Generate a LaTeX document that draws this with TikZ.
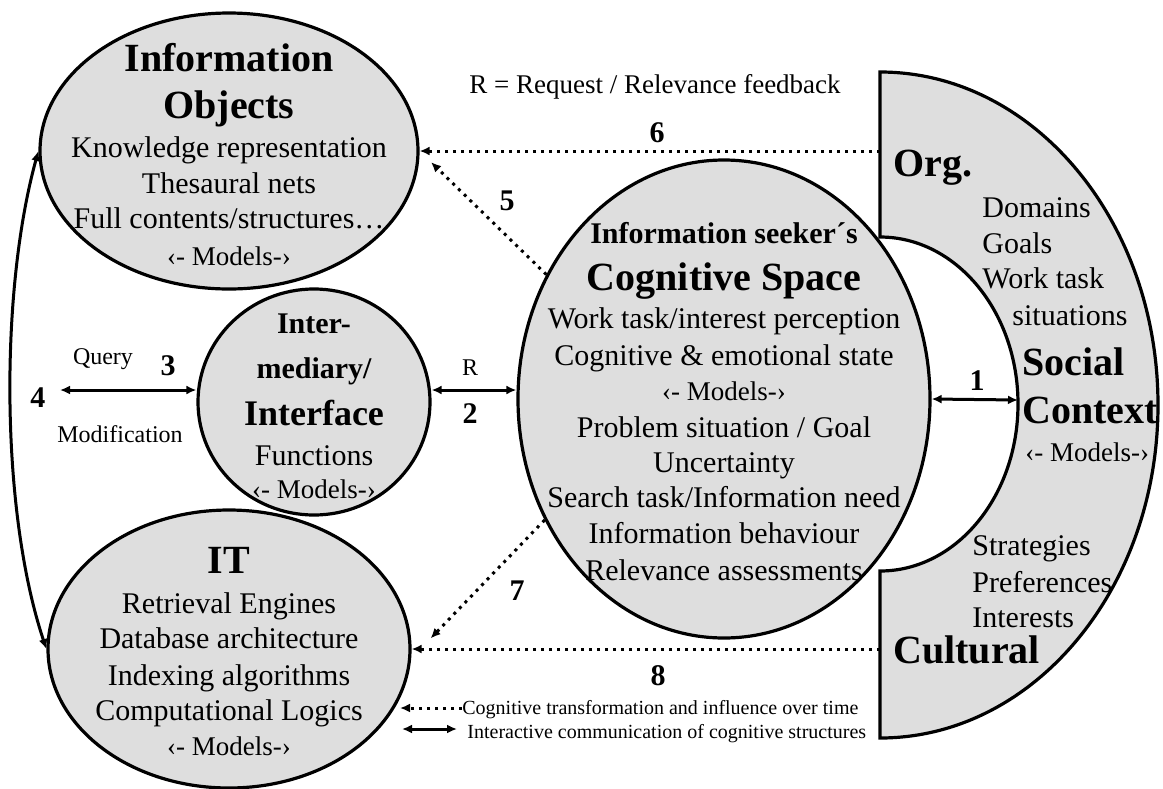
\documentclass[tikz,border=0pt]{standalone}
\usepackage{fontspec}
\setmainfont{Liberation Serif}
\usepackage{xcolor}
\usepackage{tikz}
\usetikzlibrary{shapes.geometric,arrows.meta}

\definecolor{blobfill}{HTML}{DEDEDE}

\tikzset{
  blob/.style={ellipse, draw, line width=1.6pt, fill=blobfill, inner sep=0pt},
  body/.style={inner sep=0pt, font=\fontsize{15}{18}\selectfont, text height=10pt, text depth=0pt},
  head/.style={inner sep=0pt, font=\bfseries\fontsize{20}{24}\selectfont, text height=13.5pt, text depth=0pt},
  midhead/.style={inner sep=0pt, font=\bfseries\fontsize{18}{22}\selectfont, text height=12.2pt, text depth=0pt},
  subhead/.style={inner sep=0pt, font=\bfseries\fontsize{15}{18}\selectfont, text height=10pt, text depth=0pt},
  models/.style={inner sep=0pt, font=\fontsize{13.5}{16}\selectfont, text height=8.9pt, text depth=0pt},
  note/.style={inner sep=0pt, font=\fontsize{13.5}{16}\selectfont, text height=8.9pt, text depth=0pt},
  lab/.style={inner sep=0pt, font=\fontsize{12}{14}\selectfont, text height=8pt, text depth=0pt},
  legtext/.style={inner sep=0pt, anchor=west, font=\fontsize{10}{12}\selectfont, text height=6.6pt, text depth=0pt},
  flow/.style={line width=1.5pt, {Latex[length=5pt,width=4.5pt]}-{Latex[length=5pt,width=4.5pt]}},
  infl/.style={line width=1.5pt, dash pattern=on 1.5pt off 2.5pt, -{Latex[length=5pt,width=4.5pt]}}
}

\begin{document}
\begin{tikzpicture}[x=0.5pt, y=-0.5pt]
    \useasboundingbox (0,0) rectangle (1163,788);

    % Social context band
    \draw[line width=1.6pt, fill=blobfill] (880,72) -- (880,237)
        arc[start angle=-90, end angle=90, x radius=138, y radius=167] -- (880,738)
        arc[start angle=90, end angle=-90, x radius=278, y radius=333] -- cycle;
    \coordinate (orgedge) at (880,151);
    \coordinate (culedge) at (880,649);
    \coordinate (socin) at (1018,400);

    % Ellipses
    \node[blob, minimum width=189pt, minimum height=138pt] (infobj) at (229,151) {};
    \node[blob, minimum width=116pt, minimum height=113pt] (interm) at (314,402) {};
    \node[blob, minimum width=206pt, minimum height=239pt] (cog) at (724,399) {};
    \node[blob, minimum width=181pt, minimum height=139pt] (itsys) at (229,649) {};

    % Information objects
    \node[head] (io1) at (229,58) {Information};
    \node[head] (io2) at (229,105) {Objects};
    \node[body] (io3) at (229,147) {Knowledge representation};
    \node[body] (io4) at (229,183) {Thesaural nets};
    \node[body] (io5) at (229,218) {Full contents/structures…};
    \node[models] (io6) at (229,257) {‹- Models-›};

    % Intermediary
    \node[subhead] (im1) at (314,323) {Inter-};
    \node[subhead] (im2) at (314,368) {mediary/};
    \node[midhead] (im3) at (314,413) {Interface};
    \node[body] (im4) at (314,455) {Functions};
    \node[models] (im5) at (314,490) {‹- Models-›};

    % Cognitive space
    \node[subhead] (cs1) at (724,233) {Information seeker´s};
    \node[head] (cs2) at (724,277) {Cognitive Space};
    \node[body] (cs3) at (724,318) {Work task/interest perception};
    \node[body] (cs4) at (724,355) {Cognitive \& emotional state};
    \node[models] (cs5) at (724,392) {‹- Models-›};
    \node[body] (cs6) at (724,427) {Problem situation / Goal};
    \node[body] (cs7) at (724,462) {Uncertainty};
    \node[body] (cs8) at (724,497) {Search task/Information need};
    \node[body] (cs9) at (724,533) {Information behaviour};
    \node[body] (cs10) at (724,570) {Relevance assessments};

    % IT
    \node[head] (it1) at (229,560) {IT};
    \node[body] (it2) at (229,603) {Retrieval Engines};
    \node[body] (it3) at (229,638) {Database architecture};
    \node[body] (it4) at (229,675) {Indexing algorithms};
    \node[body] (it5) at (229,710) {Computational Logics};
    \node[models] (it6) at (229,747) {‹- Models-›};

    % Social context texts
    \node[head, anchor=west] (sc1) at (893,163) {Org.};
    \node[body, anchor=west] (sc2) at (982,207) {Domains};
    \node[body, anchor=west] (sc3) at (982,243) {Goals};
    \node[body, anchor=west] (sc4) at (982,278) {Work task};
    \node[body, anchor=west] (sc5) at (1012,315) {situations};
    \node[head, anchor=west] (sc6) at (1022,362) {Social};
    \node[head, anchor=west] (sc7) at (1022,410) {Context};
    \node[models, anchor=west] (sc8) at (1025,453) {‹- Models-›};
    \node[body, anchor=west] (sc9) at (972,545) {Strategies};
    \node[body, anchor=west] (sc10) at (972,582) {Preferences};
    \node[body, anchor=west] (sc11) at (972,617) {Interests};
    \node[head, anchor=west] (sc12) at (893,650) {Cultural};

    % Labels
    \node[note] (rnote) at (655,85) {R = Request / Relevance feedback};
    \node[subhead] (n1) at (977,380) {1};
    \node[subhead] (n2) at (470,413) {2};
    \node[subhead] (n3) at (168,365) {3};
    \node[subhead] (n4) at (38,397) {4};
    \node[subhead] (n5) at (507,200) {5};
    \node[subhead] (n6) at (657,132) {6};
    \node[subhead] (n7) at (517,590) {7};
    \node[subhead] (n8) at (658,675) {8};
    \node[lab] (rlab) at (470,367) {R};
    \node[lab] (qlab) at (103,356) {Query};
    \node[lab] (mlab) at (120,434) {Modification};

    % Interaction arrows
    \coordinate (qend) at (60,390);
    \draw[flow] (qend) -- (qend -| interm.west);
    \draw[flow] (interm.east |- qend) -- (cog.west |- qend);
    \draw[flow] (cog.east) -- (socin);
    \draw[flow] (infobj.west) .. controls (0,290) and (0,510) .. (itsys.west);

    % Influence arrows
    \draw[infl] (orgedge) -- (infobj.east);
    \draw[infl, shorten >=8pt] (cog.145) -- (infobj.east);
    \draw[infl, shorten >=14pt] (cog.214) -- (itsys.-3);
    \draw[infl] (culedge) -- (itsys.east);

    % Legend
    \node[legtext] (leg1) at (462,708) {Cognitive transformation and influence over time};
    \node[legtext] (leg2) at (467,732) {Interactive communication of cognitive structures};
    \coordinate (leg1tip) at (400,708);
    \coordinate (leg2end) at (402,729);
    \draw[infl] (leg1.west) -- (leg1tip);
    \draw[flow, shorten >=5pt] (leg2end) -- (leg2end -| leg2.west);
\end{tikzpicture}
\end{document}
